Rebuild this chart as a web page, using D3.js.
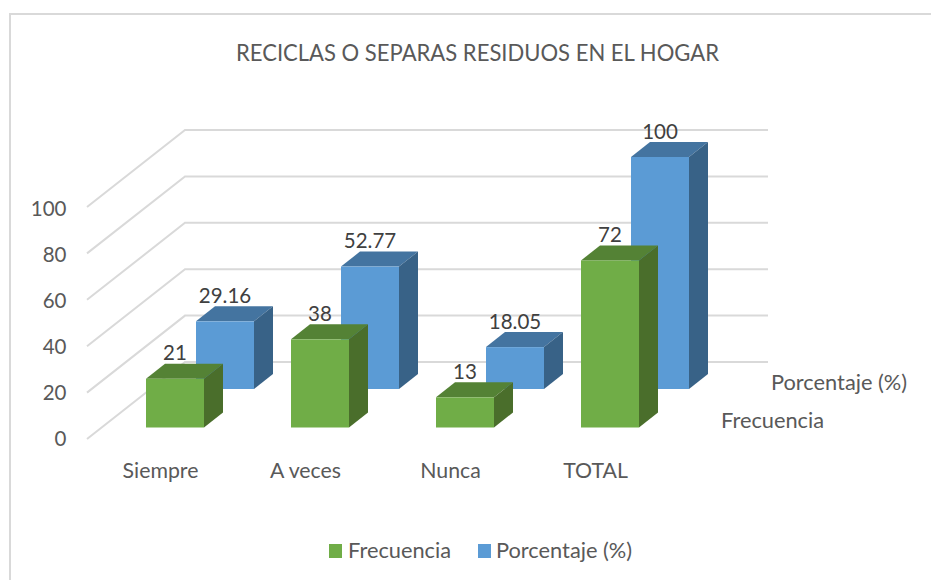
<!DOCTYPE html>
<html><head><meta charset="utf-8">
<script src="https://cdnjs.cloudflare.com/ajax/libs/d3/7.8.5/d3.min.js"></script>
<style>html,body{margin:0;background:#fff}svg{display:block}text{font-family:Lato,"Noto Sans",sans-serif}</style>
</head><body><svg id="c" width="931" height="580"></svg>
<script>
const categories = ["Siempre","A veces","Nunca","TOTAL"];
const frecuencia = [21,38,13,72];
const porcentaje = [29.16,52.77,18.05,100];
const frecuenciaLabels = ["21","38","13","72"];
const porcentajeLabels = ["29.16","52.77","18.05","100"];
const yTicks = [0,20,40,60,80,100];
const seriesNames = ["Frecuencia","Porcentaje (%)"];
const title = "RECICLAS O SEPARAS RESIDUOS EN EL HOGAR";

const svg = d3.select("#c");
const txt = "#595959", lab = "#404040", gridC = "#d9d9d9";

// frame: top and left edges only are visible in the reference crop
svg.append("path").attr("d","M10,580V14H931").attr("fill","none").attr("stroke",gridC).attr("stroke-width",2);

svg.append("text").attr("x",477.5).attr("y",61).attr("text-anchor","middle").attr("font-size",23.5)
  .attr("textLength",483).attr("lengthAdjust","spacingAndGlyphs").attr("fill",txt).text(title);

const x = d3.scaleBand().domain(categories).range([102.5,682.5]);
const h = d3.scaleLinear().domain([0,100]).range([0,232]);
const barW = 58, barDX = 19, barDY = 15, wallDX = 98, wallDY = 77;
const floorX = 87, floorY = 439, backY = floorY-wallDY, backX = floorX+wallDX, backEnd = 768;

// gridlines: side wall + back wall
const grid = svg.append("g").attr("fill","none").attr("stroke",gridC).attr("stroke-width",2);
yTicks.forEach(t=>{
  const dy = h(t);
  grid.append("path").attr("d",d3.line()([[floorX,floorY-dy],[backX,backY-dy],[backEnd,backY-dy]]));
});

// axis labels
const yAxis = d3.axisLeft(d3.scaleLinear().domain([0,100]).range([230,0])).tickValues(yTicks).tickSize(0).tickPadding(0);
const ag = svg.append("g").attr("transform",`translate(66.5,${438.5-230})`).call(yAxis);
ag.select(".domain").remove();
ag.selectAll("text").attr("font-size",20.5).attr("fill",txt).style("font-family","Lato");

function drawBars(vals, labels, baseY, offX, cols){
  const g = svg.append("g");
  categories.forEach((c,i)=>{
    const x0 = x(c)+x.bandwidth()/2+offX-barW/2, x1 = x0+barW, v = vals[i], yt = baseY-h(v);
    g.append("path").attr("fill",cols[1]).attr("d",d3.line()([[x0,yt],[x0+barDX,yt-barDY],[x1+barDX,yt-barDY],[x1,yt]])+"Z");
    g.append("path").attr("fill",cols[2]).attr("d",d3.line()([[x1,yt],[x1+barDX,yt-barDY],[x1+barDX,baseY-barDY],[x1,baseY]])+"Z");
    g.append("rect").attr("x",x0).attr("y",yt).attr("width",barW).attr("height",h(v)).attr("fill",cols[0]);
  });
  return (layer)=>categories.forEach((c,i)=>{
    const cx = x(c)+x.bandwidth()/2+offX;
    layer.append("text").attr("x",cx).attr("y",baseY-h(vals[i])-18.5).attr("text-anchor","middle")
      .attr("font-size",20.5).attr("fill",lab).text(labels[i]);
  });
}
const colsB = ["#5b9bd5","#4474a0","#386287"], colsG = ["#70ad47","#548235","#4a6e2b"];
const lb = drawBars(porcentaje, porcentajeLabels, 389, 50, colsB);
const lg = drawBars(frecuencia, frecuenciaLabels, 427.5, 0, colsG);
const labels = svg.append("g");
lb(labels); lg(labels);

// category labels
svg.append("g").selectAll("text").data(categories).join("text")
  .attr("x",d=>x(d)+x.bandwidth()/2-14.5).attr("y",478).attr("text-anchor","middle")
  .attr("font-size",21.3).attr("fill",txt).text(d=>d);

// series axis labels
svg.append("text").attr("x",771).attr("y",390).attr("font-size",21.8).attr("fill",txt).text(seriesNames[1]);
svg.append("text").attr("x",721).attr("y",428).attr("font-size",21.8).attr("fill",txt).text(seriesNames[0]);

// legend
const legend = [[329,348,colsG[0],seriesNames[0]],[478,496,colsB[0],seriesNames[1]]];
const lgG = svg.append("g");
legend.forEach(l=>{
  lgG.append("rect").attr("x",l[0]).attr("y",544).attr("width",13).attr("height",14).attr("fill",l[2]);
  lgG.append("text").attr("x",l[1]).attr("y",558).attr("font-size",21.8).attr("fill",txt).text(l[3]);
});
</script></body></html>
